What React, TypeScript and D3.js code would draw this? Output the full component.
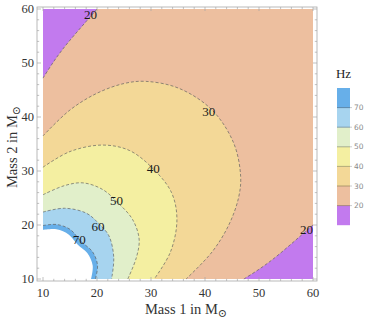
import React from "react";
// @ts-ignore
import * as d3 from "d3";

const W = 371;
const H = 325;

// contour levels (Hz) and band colours, lowest band first (<20 ... 70-80)
const levels = [20, 30, 40, 50, 60, 70];
const bandColors = ["#c27aee", "#edbf9f", "#f3d897", "#f4efa1", "#e1efca", "#a7d4ef", "#67afe9"];

// contour lines, [mass1, mass2]
const contour20a = [[10, 47.2], [12, 50.3], [14, 53], [16, 55.4], [18, 57.7], [20, 60]];
const contour20b = [[47.2, 10], [50.3, 12], [53, 14], [55.4, 16], [57.7, 18], [60, 20]];
const contour30 = [
  [10, 36.5], [15, 41.3], [20, 44.4], [25, 46.2], [29, 46.6], [35.2, 45.3], [41.3, 41.3],
  [45.3, 35.2], [46.6, 29], [46.2, 25], [44.4, 20], [41.3, 15], [36.5, 10],
];
const contour40 = [
  [10, 30.7], [15, 33.6], [21, 34.8], [26, 33.8], [30.4, 30.4], [33.8, 26], [34.8, 21], [33.6, 15], [30.6, 10],
];
const contour50 = [
  [10, 25.6], [14, 27.3], [17.4, 27.8], [21, 26.6], [24, 24], [26.6, 21], [27.8, 17.4], [27.3, 14], [25.7, 10],
];
const contour60 = [[10, 22.4], [14, 23.1], [18, 22.2], [20.3, 20.3], [22.2, 18], [23.1, 14], [22.7, 10]];
const contour70 = [[10, 19.9], [12.5, 20.1], [15, 19.2], [17, 17], [19.2, 15], [20.1, 12.5], [19.7, 10]];
const whiteEdge = [[10, 19.1], [12.5, 19.2], [14.8, 18.2], [16.4, 16.4], [18.2, 14.8], [19.2, 12.5], [18.9, 10]];

const contourLabels = [
  { text: "20", m1: 18.8, m2: 58.9 },
  { text: "30", m1: 40.7, m2: 41 },
  { text: "40", m1: 30.4, m2: 30.4 },
  { text: "50", m1: 23.6, m2: 24.6 },
  { text: "60", m1: 20.2, m2: 19.8 },
  { text: "70", m1: 16.7, m2: 17.3 },
  { text: "20", m1: 58.8, m2: 19.1 },
];

const majorTicks = [10, 20, 30, 40, 50, 60];
const minorTicks = d3.range(10, 61, 2).filter((t: number) => t % 10 !== 0);

// layout
const FRAME = { left: 37, right: 317, top: 7, bottom: 281 };
const LEG = { x: 337, top: 88, w: 13, band: 19.6 };

const App = () => {
  const x = d3.scaleLinear().domain([10, 60]).range([43, 313]);
  const y = d3.scaleLinear().domain([10, 60]).range([279, 9]);

  const line = d3
    .line()
    .x((d: any) => x(d[0]))
    .y((d: any) => y(d[1]))
    .curve(d3.curveCatmullRom);

  const region = (pts: number[][], corner: number[]) =>
    `${line(pts)}L${x(corner[0])},${y(corner[1])}Z`;

  const innerRegions = [
    { pts: contour30, fill: bandColors[2] },
    { pts: contour40, fill: bandColors[3] },
    { pts: contour50, fill: bandColors[4] },
    { pts: contour60, fill: bandColors[5] },
    { pts: contour70, fill: bandColors[6] },
    { pts: whiteEdge, fill: "#ffffff" },
  ];
  const dashed = [contour20a, contour20b, contour30, contour40, contour50, contour60, contour70];

  // colour bar, top band first
  const legendBands = bandColors.slice().reverse();
  const legendY = d3
    .scaleLinear()
    .domain([80, 10])
    .range([LEG.top, LEG.top + LEG.band * 7]);

  const serif = "'Liberation Serif', 'DejaVu Serif', serif";

  return (
    <svg width={W} height={H} style={{ position: "absolute", left: 0, top: 0 }}>
      <rect width={W} height={H} fill="#fff" />
      {/* bands */}
      <rect x={x(10)} y={y(60)} width={x(60) - x(10)} height={y(10) - y(60)} fill={bandColors[1]} />
      <path d={region(contour20a, [10, 60])} fill={bandColors[0]} />
      <path d={region(contour20b, [60, 10])} fill={bandColors[0]} />
      {innerRegions.map((r, i) => (
        <path key={i} d={region(r.pts, [10, 10])} fill={r.fill} />
      ))}
      {dashed.map((pts, i) => (
        <path
          key={i}
          d={line(pts)}
          fill="none"
          stroke="#5e5e5e"
          strokeOpacity={0.75}
          strokeWidth={0.9}
          strokeDasharray="3,2"
        />
      ))}
      {contourLabels.map((l, i) => (
        <text
          key={i}
          x={x(l.m1)}
          y={y(l.m2)}
          dy="0.35em"
          textAnchor="middle"
          fontFamily={serif}
          fontSize={13}
          fill="#1a1a1a"
        >
          {l.text}
        </text>
      ))}

      {/* frame */}
      <rect
        x={FRAME.left}
        y={FRAME.top}
        width={FRAME.right - FRAME.left}
        height={FRAME.bottom - FRAME.top}
        fill="none"
        stroke="#a8a8a8"
        strokeWidth={0.8}
      />
      {[...majorTicks.map((t) => [t, 4]), ...minorTicks.map((t: number) => [t, 2.2])].map(([t, len], i) => (
        <g key={i} stroke="#a8a8a8" strokeWidth={0.7}>
          <line x1={x(t)} x2={x(t)} y1={FRAME.bottom} y2={FRAME.bottom - len} />
          <line x1={x(t)} x2={x(t)} y1={FRAME.top} y2={FRAME.top + len} />
          <line y1={y(t)} y2={y(t)} x1={FRAME.left} x2={FRAME.left + len} />
          <line y1={y(t)} y2={y(t)} x1={FRAME.right} x2={FRAME.right - len} />
        </g>
      ))}
      {majorTicks.map((t) => (
        <g key={t} fontFamily={serif} fontSize={12.5} fill="#333">
          <text x={x(t)} y={297} textAnchor="middle">
            {t}
          </text>
          <text x={34} y={y(t)} dy="0.35em" textAnchor="end">
            {t}
          </text>
        </g>
      ))}

      {/* axis titles */}
      <text x={186} y={314} textAnchor="middle" fontFamily={serif} fontSize={14.5} fill="#333">
        Mass 1 in M
        <tspan fontSize={11} dy={3}>⊙</tspan>
      </text>
      <text
        transform={`translate(17,${(y(10) + y(60)) / 2 + 3}) rotate(-90)`}
        textAnchor="middle"
        fontFamily={serif}
        fontSize={14.5}
        fill="#333"
      >
        Mass 2 in M
        <tspan fontSize={11} dy={3}>⊙</tspan>
      </text>

      {/* legend */}
      <text x={LEG.x + LEG.w / 2} y={78} textAnchor="middle" fontFamily={serif} fontSize={13} fill="#222">
        Hz
      </text>
      {legendBands.map((c, i) => (
        <rect key={i} x={LEG.x} y={LEG.top + i * LEG.band} width={LEG.w} height={LEG.band} fill={c} />
      ))}
      {levels.map((lv, i) => (
        <g key={lv}>
          <line
            x1={LEG.x}
            x2={LEG.x + LEG.w}
            y1={legendY(lv)}
            y2={legendY(lv)}
            stroke={d3.color(bandColors[i + 1]).darker(1.2).toString()}
            strokeWidth={0.8}
          />
          <line x1={LEG.x + LEG.w} x2={LEG.x + LEG.w + 2} y1={legendY(lv)} y2={legendY(lv)} stroke="#aaa" strokeWidth={0.6} />
          <text
            x={LEG.x + LEG.w + 4}
            y={legendY(lv)}
            dy="0.35em"
            fontFamily="'DejaVu Sans', sans-serif"
            fontSize={7.5}
            fill="#8a8a8a"
          >
            {lv}
          </text>
        </g>
      ))}
    </svg>
  );
};

export default App;
